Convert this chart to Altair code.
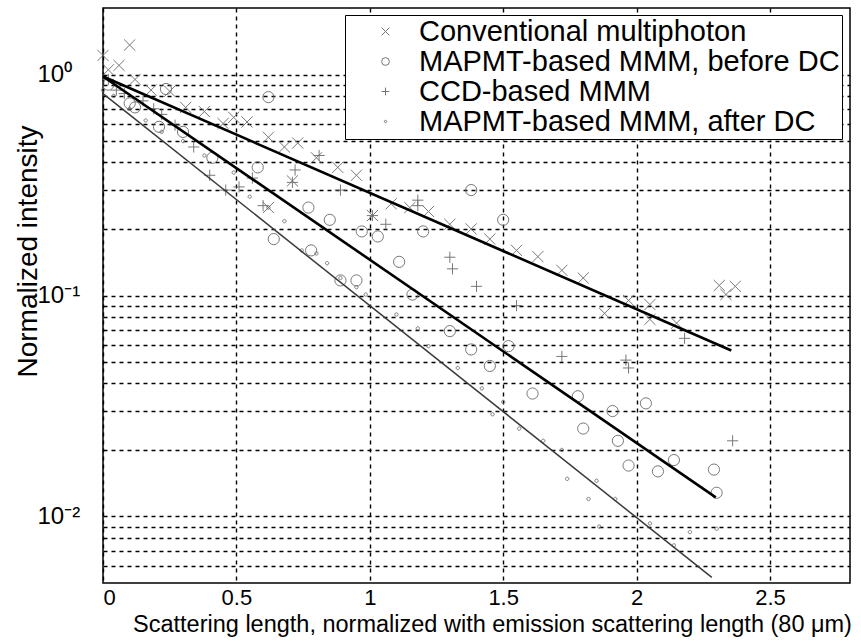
import altair as alt
import pandas as pd

FONT = "Liberation Sans"

series = ["Conventional multiphoton", "MAPMT-based MMM, before DC",
          "CCD-based MMM", "MAPMT-based MMM, after DC"]

conv_x = [0.00, 0.02, 0.06, 0.10, 0.12, 0.18, 0.25, 0.31, 0.38, 0.45, 0.49, 0.54, 0.62, 0.62,
          0.68, 0.71, 0.73, 0.80, 0.88, 0.95, 1.01, 1.08, 1.15, 1.22, 1.30, 1.38, 1.45, 1.55,
          1.63, 1.72, 1.80, 1.88, 1.97, 2.05, 2.05, 2.15, 2.31, 2.335, 2.37]
conv_y = [1.22, 1.05, 1.10, 1.36, 0.95, 0.85, 0.84, 0.71, 0.68, 0.60, 0.64, 0.61, 0.52, 0.25,
          0.47, 0.33, 0.49, 0.42, 0.38, 0.35, 0.23, 0.26, 0.25, 0.24, 0.21, 0.20, 0.18, 0.16,
          0.15, 0.13, 0.12, 0.083, 0.095, 0.091, 0.078, 0.075, 0.111, 0.101, 0.11]

before_x = [0.02, 0.10, 0.12, 0.21, 0.236, 0.30, 0.41, 0.58, 0.62, 0.64, 0.77, 0.78, 0.85,
            0.89, 0.95, 0.97, 1.03, 1.11, 1.16, 1.20, 1.30, 1.38, 1.38, 1.45, 1.50, 1.52,
            1.61, 1.78, 1.80, 1.91, 1.93, 1.97, 2.035, 2.08, 2.14, 2.29, 2.30]
before_y = [0.90, 0.74, 0.71, 0.58, 0.86, 0.55, 0.42, 0.38, 0.79, 0.18, 0.25, 0.16, 0.22,
            0.117, 0.117, 0.195, 0.185, 0.142, 0.101, 0.195, 0.069, 0.057, 0.30, 0.048, 0.22,
            0.059, 0.036, 0.035, 0.025, 0.030, 0.022, 0.017, 0.0325, 0.016, 0.018, 0.0163, 0.0128]

ccd_x = [0.02, 0.05, 0.08, 0.15, 0.19, 0.22, 0.27, 0.34, 0.40, 0.46, 0.51, 0.56, 0.60, 0.71,
         0.72, 0.81, 0.89, 1.01, 1.06, 1.18, 1.18, 1.30, 1.31, 1.40, 1.55, 1.72, 1.96, 1.97,
         2.18, 2.36]
ccd_y = [0.95, 0.85, 0.82, 0.76, 0.70, 0.66, 0.59, 0.47, 0.35, 0.30, 0.31, 0.34, 0.255, 0.325,
         0.37, 0.43, 0.30, 0.23, 0.21, 0.255, 0.27, 0.149, 0.132, 0.11, 0.09, 0.053, 0.051,
         0.047, 0.064, 0.022]

after_x = [0.00, 0.04, 0.10, 0.16, 0.22, 0.30, 0.38, 0.49, 0.55, 0.62, 0.68, 0.745, 0.80,
           0.84, 0.89, 0.95, 0.985, 1.10, 1.18, 1.22, 1.33, 1.42, 1.46, 1.50, 1.56, 1.65,
           1.72, 1.74, 1.82, 1.85, 1.86, 1.92, 2.05, 2.14, 2.20, 2.30]
after_y = [0.85, 0.80, 0.70, 0.62, 0.55, 0.50, 0.43, 0.36, 0.28, 0.25, 0.217, 0.16, 0.155,
           0.14, 0.12, 0.109, 0.101, 0.082, 0.071, 0.059, 0.047, 0.038, 0.029, 0.033, 0.025,
           0.022, 0.020, 0.0148, 0.012, 0.0145, 0.009, 0.012, 0.0093, 0.0074, 0.0085, 0.0088]

# exponential fits (straight lines on the log axis): start and end points
fit_names = ["Conventional fit", "Before DC fit", "After DC fit"]
fit_x0 = [0.0, 0.0, 0.0]
fit_x1 = [2.355, 2.297, 2.282]
fit_y0 = [0.98, 0.98, 0.82]
fit_y1 = [0.0564, 0.0122, 0.0053]

x_ticks = [0, 0.5, 1, 1.5, 2, 2.5]
y_grid = [0.006, 0.007, 0.008, 0.009, 0.01, 0.02, 0.03, 0.04, 0.05, 0.06, 0.07, 0.08, 0.09,
          0.1, 0.2, 0.3, 0.4, 0.5, 0.6, 0.7, 0.8, 0.9, 1.0]

rows = []
for name, xs, ys in zip(series, [conv_x, before_x, ccd_x, after_x],
                        [conv_y, before_y, ccd_y, after_y]):
    for a, b in zip(xs, ys):
        rows.append({"series": name, "x": a, "y": b})
pts = pd.DataFrame(rows)

fits = pd.DataFrame({"fit": fit_names, "x0": fit_x0, "x1": fit_x1,
                     "y0": fit_y0, "y1": fit_y1})

x_scale = alt.Scale(domain=[0, 2.8], nice=False, zero=False)
y_scale = alt.Scale(type="log", domain=[0.005, 2], nice=False)

x_axis = alt.Axis(values=x_ticks, format="~g", grid=True, gridColor="black",
                  gridDash=[4, 4], gridWidth=1.4, gridOpacity=1, ticks=False,
                  domain=False, labelFont=FONT, labelFontSize=22, labelColor="black",
                  labelPadding=4,
                  title="Scattering length, normalized with emission scattering length (80 μm)",
                  titleFont=FONT, titleFontSize=23.5, titleFontWeight="normal",
                  titleColor="black", titlePadding=4, titleX=389, titleAlign="center",
                  labelOverlap=False)

y_label_expr = ("abs(datum.value - 1) < 1e-9 ? '10⁰' : "
                "abs(datum.value - 0.1) < 1e-9 ? '10⁻¹' : "
                "abs(datum.value - 0.01) < 1e-9 ? '10⁻²' : ''")
y_axis = alt.Axis(values=y_grid, labelExpr=y_label_expr, grid=True, gridColor="black",
                  gridDash=[4, 4], gridWidth=1.4, gridOpacity=1, ticks=False,
                  domain=False, labelFont=FONT, labelFontSize=24, labelColor="black",
                  labelAlign="left", labelPadding=66, title="Normalized intensity",
                  titleFont=FONT, titleFontSize=28, titleFontWeight="normal",
                  titleColor="black", titleX=-61, titleY=243, titleAlign="center",
                  labelOverlap=False)

shape_range = ["M-1,-1L1,1M-1,1L1,-1", "circle", "M-1,0L1,0M0,-1L0,1",
               "M0,-0.3A0.3,0.3,0,1,1,0,0.3A0.3,0.3,0,1,1,0,-0.3Z"]

legend = alt.Legend(title=None, orient="none", legendX=242, legendY=7,
                    fillColor="white", strokeColor="black",
                    padding=2, rowPadding=-2, symbolSize=60, symbolOffset=24,
                    symbolStrokeColor="#666", symbolStrokeWidth=1,
                    symbolFillColor="transparent", labelOffset=19,
                    labelFont=FONT, labelFontSize=29, labelColor="black",
                    labelLimit=0)

points = alt.Chart(pts).mark_point(filled=False, strokeWidth=1, size=125,
                                   color="#6a6a6a", opacity=0.9).encode(
    x=alt.X("x:Q", scale=x_scale, axis=x_axis),
    y=alt.Y("y:Q", scale=y_scale, axis=y_axis),
    shape=alt.Shape("series:N", scale=alt.Scale(domain=series, range=shape_range),
                    legend=legend),
)

thick = alt.Chart(fits).transform_filter(
    alt.FieldOneOfPredicate(field="fit", oneOf=fit_names[:2])
).mark_rule(color="black", strokeWidth=2.6).encode(
    x="x0:Q", x2="x1:Q", y="y0:Q", y2="y1:Q")

thin = alt.Chart(fits).transform_filter(
    alt.FieldEqualPredicate(field="fit", equal=fit_names[2])
).mark_rule(color="#3a3a3a", strokeWidth=1.5).encode(
    x="x0:Q", x2="x1:Q", y="y0:Q", y2="y1:Q")

chart = alt.layer(points, thin, thick).properties(
    width=747, height=575,
    padding={"left": 103, "top": 8, "right": 11, "bottom": 60},
    autosize=alt.AutoSizeParams(type="none"),
    background="white",
).configure_view(stroke="black", strokeWidth=1.5)

chart.save("out.html", embed_options={"renderer": "svg", "actions": False})
